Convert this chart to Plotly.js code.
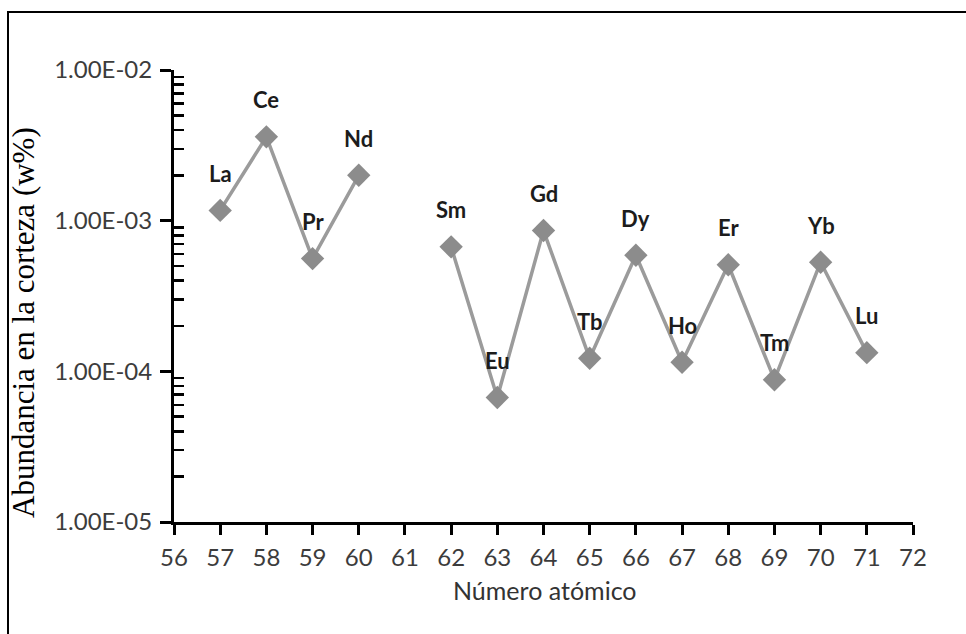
<!DOCTYPE html>
<html>
<head>
<meta charset="utf-8">
<script src="https://cdn.plot.ly/plotly-3.0.1.min.js"></script>
<style>
  html, body { margin: 0; padding: 0; background: #ffffff; }
  #chart { width: 966px; height: 634px; }
</style>
</head>
<body>
<div id="chart"></div>
<script>
// ---- data ----
const elements = ['La','Ce','Pr','Nd','Sm','Eu','Gd','Tb','Dy','Ho','Er','Tm','Yb','Lu'];
const atomicNumbers = [57, 58, 59, 60, 62, 63, 64, 65, 66, 67, 68, 69, 70, 71];
const abundance = [1.17e-3, 3.6e-3, 5.6e-4, 2.0e-3, 6.7e-4, 6.7e-5, 8.6e-4, 1.22e-4, 5.9e-4, 1.15e-4, 5.1e-4, 8.8e-5, 5.3e-4, 1.33e-4];

const yTickVals = [1e-5, 1e-4, 1e-3, 1e-2];
const yTickText = ['1.00E-05', '1.00E-04', '1.00E-03', '1.00E-02'];
const yMinorVals = [];
for (const d of [1e-5, 1e-4, 1e-3]) {
  for (let m = 2; m <= 9; m++) yMinorVals.push(m * d);
}
const xTickVals = [56,57,58,59,60,61,62,63,64,65,66,67,68,69,70,71,72];

const xTitle = 'Número atómico';
const yTitle = 'Abundancia en la corteza (w%)';

// split the series where an element (Pm, 61) is missing
const segments = [];
let cur = {x: [], y: []};
atomicNumbers.forEach((z, i) => {
  if (i > 0 && z - atomicNumbers[i - 1] > 1) { segments.push(cur); cur = {x: [], y: []}; }
  cur.x.push(z); cur.y.push(abundance[i]);
});
segments.push(cur);

const traces = segments.map(s => ({
  type: 'scatter',
  mode: 'lines+markers',
  x: s.x, y: s.y,
  line: {color: '#9b9b9b', width: 3.5},
  marker: {symbol: 'diamond', size: 18, color: '#8c8c8c', line: {width: 0}},
  hoverinfo: 'skip',
  showlegend: false,
  cliponaxis: false
}));

const labelFont = {family: 'Lato, "Open Sans", sans-serif', size: 22, color: '#1c1c1c', weight: 'bold'};
const annotations = elements.map((el, i) => ({
  x: atomicNumbers[i], y: Math.log10(abundance[i]),
  xref: 'x', yref: 'y',
  text: '<b>' + el + '</b>',
  showarrow: false,
  yshift: 37,
  xanchor: 'center', yanchor: 'middle',
  font: labelFont
}));

const plotL = 174, plotR = 913, plotT = 70, plotB = 522;
const pw = plotR - plotL, ph = plotB - plotT;
const px = v => (v - plotL) / pw;
const py = v => (plotB - v) / ph;

annotations.push({
  xref: 'paper', yref: 'paper',
  x: px(545), y: py(590),
  text: xTitle, showarrow: false,
  xanchor: 'center', yanchor: 'middle',
  font: {family: 'Lato, "Open Sans", sans-serif', size: 25, color: '#333333'}
});
annotations.push({
  xref: 'paper', yref: 'paper',
  x: px(23), y: py(323),
  text: yTitle, showarrow: false, textangle: -90,
  xanchor: 'center', yanchor: 'middle',
  font: {family: '"Liberation Serif", "DejaVu Serif", serif', size: 31, color: '#000000'}
});

const tickFont = {family: 'Lato, "Open Sans", sans-serif', size: 24, color: '#3c3c3c'};

// inner half of the crossing major ticks on the y axis
const shapes = yTickVals.map(v => ({
  type: 'line', xref: 'paper', yref: 'y',
  x0: 0, x1: 12 / pw,
  y0: Math.log10(v), y1: Math.log10(v),
  line: {color: '#000000', width: 3},
  layer: 'above'
}));
// frame around the figure (only top and left edges fall inside the picture)
shapes.push({
  type: 'rect', xref: 'paper', yref: 'paper',
  x0: px(8), x1: px(1100), y0: py(800), y1: py(12),
  line: {color: '#000000', width: 2},
  fillcolor: 'rgba(0,0,0,0)',
  layer: 'below'
});

const layout = {
  width: 966, height: 634,
  margin: {l: plotL, r: 966 - plotR, t: plotT, b: 634 - plotB, pad: 0},
  paper_bgcolor: '#ffffff',
  plot_bgcolor: '#ffffff',
  showlegend: false,
  xaxis: {
    range: [56, 72],
    tickmode: 'array', tickvals: xTickVals,
    ticks: 'outside', ticklen: 10, tickwidth: 3, tickcolor: '#000000',
    showline: true, linewidth: 3, linecolor: '#000000',
    showgrid: false, zeroline: false,
    tickfont: tickFont,
    ticklabelstandoff: 2,
    automargin: false,
    fixedrange: true
  },
  yaxis: {
    type: 'log',
    range: [-5, -2],
    tickmode: 'array', tickvals: yTickVals, ticktext: yTickText,
    ticks: 'outside', ticklen: 11, tickwidth: 3, tickcolor: '#000000',
    showline: true, linewidth: 3, linecolor: '#000000',
    showgrid: false, zeroline: false,
    tickfont: tickFont,
    ticklabelstandoff: 3,
    minor: {tickmode: 'array', tickvals: yMinorVals, ticks: 'inside', ticklen: 10, tickwidth: 2.5, tickcolor: '#000000', showgrid: false},
    automargin: false,
    fixedrange: true
  },
  shapes: shapes,
  annotations: annotations
};

Plotly.newPlot('chart', traces, layout, {displayModeBar: false, staticPlot: true});
</script>
</body>
</html>
